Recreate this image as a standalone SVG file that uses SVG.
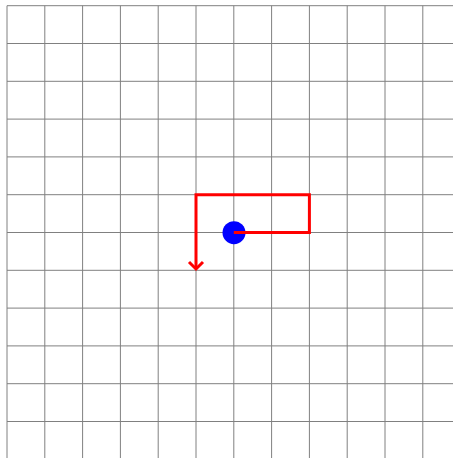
<svg xmlns="http://www.w3.org/2000/svg" width="453" height="458" viewBox="0 0 453 458">
<style>
.g{stroke:#808080;stroke-width:1;fill:none}
.r{stroke:#ff0000;stroke-width:3;fill:none;stroke-linejoin:miter}
</style>
<rect width="453" height="458" fill="#fff"/>
<g id="grid" class="g">
<path d="M7,5.7V458M44.8,5.7V458M82.6,5.7V458M120.4,5.7V458M158.2,5.7V458M196,5.7V458M233.8,5.7V458M271.6,5.7V458M309.4,5.7V458M347.2,5.7V458M385,5.7V458M422.8,5.7V458"/>
<path d="M7,5.7H453M7,43.5H453M7,81.3H453M7,119.1H453M7,156.9H453M7,194.7H453M7,232.5H453M7,270.3H453M7,308.1H453M7,345.9H453M7,383.7H453M7,421.5H453"/>
</g>
<g id="dot"><circle cx="234" cy="232.7" r="11.5" fill="#0000ff"/></g>
<g id="connectors">
<path class="r" d="M233.8,232.5H309.4V194.7H196V269"/>
<path class="r" d="M189,262L196,269L203,262"/>
</g>
</svg>
